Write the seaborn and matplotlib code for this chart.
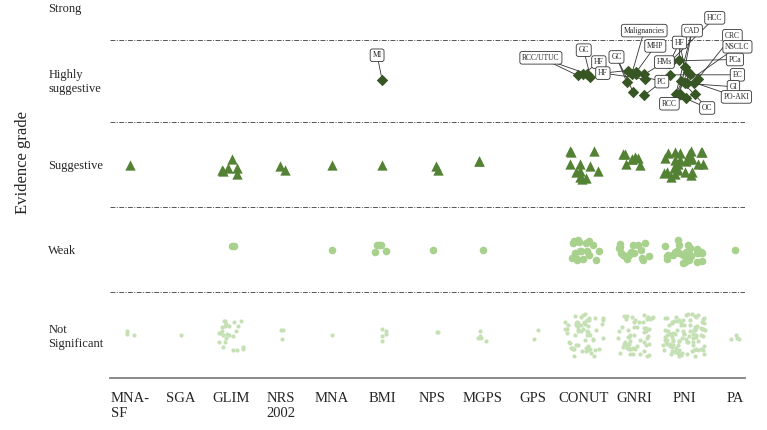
import numpy as np
import pandas as pd
import matplotlib
matplotlib.use("Agg")
import matplotlib.pyplot as plt
import seaborn as sns

# tools on the x axis and evidence grades on the y axis
categories = ["MNA-\nSF", "SGA", "GLIM", "NRS\n2002", "MNA", "BMI", "NPS",
              "MGPS", "GPS", "CONUT", "GNRI", "PNI", "PA"]
grades = ["Not\nSignificant", "Weak", "Suggestive", "Highly\nsuggestive", "Strong"]

# number of associations per tool (same order as categories)
n_suggestive = [1, 0, 6, 2, 1, 1, 2, 2, 0, 12, 8, 25, 0]
n_weak = [0, 0, 2, 0, 1, 5, 1, 1, 0, 18, 17, 28, 1]
n_not_sig = [3, 1, 25, 3, 1, 5, 2, 5, 2, 60, 55, 100, 4]

# highly suggestive associations, one entry per outcome
hs_bmi = ["MI"]
hs_conut = ["RCC/UTUC", "RCC/UTUC", "GC", "HF"]
hs_gnri = ["HF", "HF", "GC", "GC", "Malignancies", "MHP", "HMs", "PC", "PC"]
hs_pni = ["HCC", "CAD", "CAD", "HF", "HF", "HF", "CRC", "NSCLC", "PCa", "EC",
          "GI", "PO-AKI", "OC", "OC", "RCC", "RCC", "RCC"]

rows = []
for i, cat in enumerate(categories):
    for lvl, counts in ((0, n_not_sig), (1, n_weak), (2, n_suggestive)):
        rows += [(cat, lvl, "")] * counts[i]
for cat, outs in (("BMI", hs_bmi), ("CONUT", hs_conut), ("GNRI", hs_gnri), ("PNI", hs_pni)):
    rows += [(cat, 3, o) for o in outs]
df = pd.DataFrame(rows, columns=["tool", "grade", "outcome"])
df["pos"] = df["tool"].map({c: i for i, c in enumerate(categories)})

# label box placement (offset from the tool, grade level)
label_pos = {
    "BMI": {"MI": (-0.1, 3.29)},
    "CONUT": {"RCC/UTUC": (-0.85, 3.26), "GC": (0.0, 3.35), "HF": (0.3, 3.21)},
    "GNRI": {"HF": (-0.62, 3.08), "GC": (-0.35, 3.27), "Malignancies": (0.2, 3.58),
             "MHP": (0.42, 3.40), "HMs": (0.6, 3.21), "PC": (0.55, 2.98)},
    "PNI": {"HF": (-0.1, 3.44), "CAD": (0.15, 3.58), "HCC": (0.6, 3.73), "CRC": (0.95, 3.52),
            "NSCLC": (1.05, 3.39), "PCa": (1.0, 3.24), "EC": (1.05, 3.06), "GI": (0.97, 2.92),
            "PO-AKI": (1.03, 2.80), "OC": (0.45, 2.67), "RCC": (-0.3, 2.72)},
}

# marker, colour, size, x spread factor, y spread factor, spread caps
styles = {0: ("o", "#C5E0B4", 9, 0.05, 0.035, 0.42, 0.25),
          1: ("o", "#A9D18E", 30, 0.075, 0.03, 0.40, 0.16),
          2: ("^", "#548235", 55, 0.08, 0.05, 0.42, 0.18),
          3: ("D", "#375623", 34, 0.085, 0.06, 0.36, 0.26)}

sns.set_theme(style="white")
plt.rcParams["font.family"] = "serif"
plt.rcParams["font.serif"] = ["Liberation Serif", "DejaVu Serif"]

fig = plt.figure(figsize=(7.67, 4.30), dpi=100)
ax = fig.add_axes([110 / 767, 52 / 430, 635 / 767, 378 / 430])

np.random.seed(5)
for (pos, lvl), g in df.groupby(["pos", "grade"]):
    n = len(g)
    marker, color, s, fx, fy, cx, cy = styles[lvl]
    xj = max(0.11, min(cx, fx * np.sqrt(n))) if n > 1 else 0
    yj = max(0.06, min(cy, fy * np.sqrt(n))) if n > 1 else 0
    sns.regplot(data=g, x="pos", y="grade", fit_reg=False, x_jitter=xj, y_jitter=yj,
                marker=marker, color=color, ax=ax,
                scatter_kws=dict(s=s, linewidths=0, alpha=1, zorder=3))
    if lvl == 3:
        pts = ax.collections[-1].get_offsets()
        tool = g["tool"].iloc[0]
        for name, (dx, ly) in label_pos[tool].items():
            lx = pos + dx
            for (px, py), o in zip(pts, g["outcome"]):
                if o == name:
                    ax.plot([lx, px], [ly, py], color="#333333", lw=0.6, zorder=2)
            ax.text(lx, ly, name, fontsize=5.5, ha="center", va="center", zorder=5,
                    bbox=dict(boxstyle="round,pad=0.3", fc="white", ec="#333333", lw=0.6))

for y in [0.5, 1.5, 2.5, 3.47]:
    ax.axhline(y, color="#555555", lw=0.7, ls=(0, (5, 1.5, 1, 1.5)), zorder=1)

ax.set_xlim(-0.4, 12.2)
ax.set_ylim(-0.506, 3.94)
ax.set_xticks(range(len(categories)), labels=categories, fontsize=10.5)
for lbl in ax.get_xticklabels():
    lbl.set_multialignment("left")
ax.set_yticks([0, 1, 2, 3, 3.85], labels=grades, fontsize=9)
for lbl in ax.get_yticklabels():
    lbl.set_ha("left")
    lbl.set_multialignment("left")
ax.tick_params(axis="y", length=0, pad=44.5)
ax.tick_params(axis="x", length=0, pad=10)

ax.set_xlabel("")
ax.set_ylabel("Evidence grade", fontsize=12)
ax.yaxis.set_label_coords(-0.125, 0.57)

for side in ["top", "right", "left"]:
    ax.spines[side].set_visible(False)
ax.spines["bottom"].set_color("#808080")
ax.spines["bottom"].set_linewidth(1.3)

fig.savefig("out.png", dpi=100)
